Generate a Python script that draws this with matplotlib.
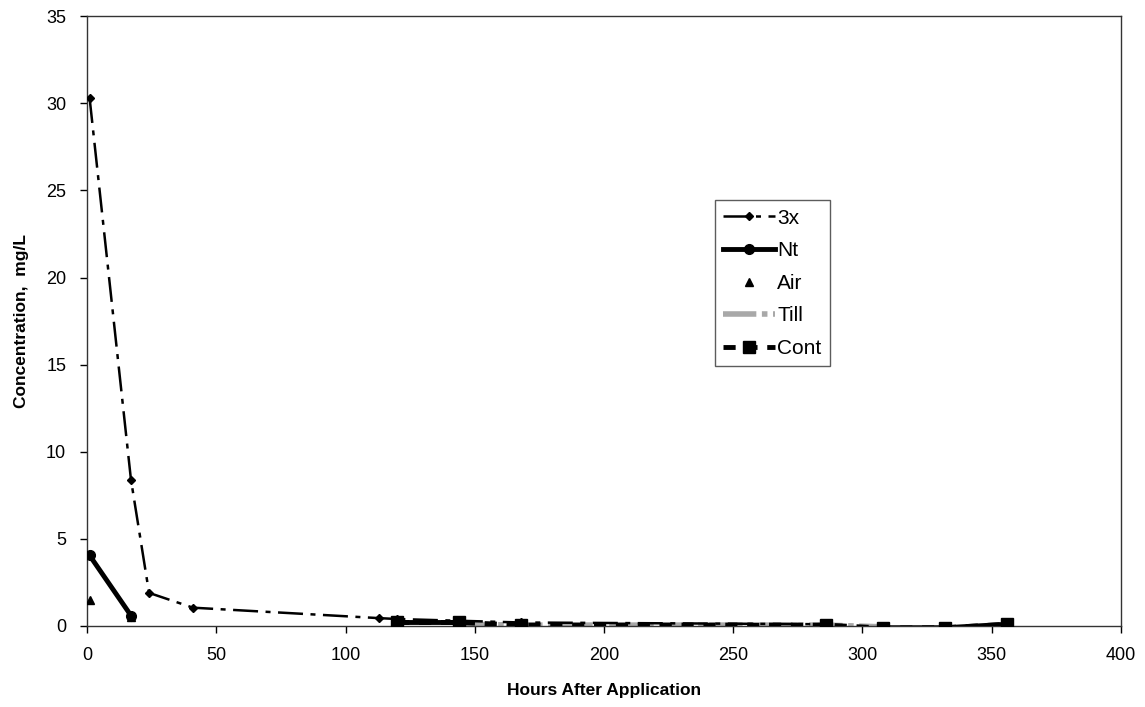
import numpy as np
import matplotlib
matplotlib.use("Agg")
import matplotlib.pyplot as plt

plt.rcParams['font.family'] = ['Liberation Sans', 'DejaVu Sans']

# Sampling times (hours after application) and measured concentrations (mg/L)
hours_3x = [1, 17, 24, 41, 113, 120, 144, 168, 286]
conc_3x = [30.3, 8.4, 1.9, 1.05, 0.45, 0.4, 0.3, 0.2, 0.1]

# NaN entries mark sampling times with no Nt measurement (breaks the line)
hours_nt = [1, 17, 24, 120, 144, 168, 286, 308, 332, 356]
conc_nt = [4.05, 0.6, np.nan, 0.2, 0.2, np.nan, np.nan, -0.1, -0.1, 0.1]

hours_air = [1, 17]
conc_air = [1.5, 0.5]

hours_till = [144, 168, 192, 216, 240, 264, 286, 308]
conc_till = [0.1, 0.05, 0.05, 0.05, 0.05, 0.05, 0.05, -0.05]

hours_cont = [120, 144, 168, 286, 308, 332, 356]
conc_cont = [0.2, 0.2, 0.05, 0.05, -0.12, -0.1, 0.1]

x_ticks = [0, 50, 100, 150, 200, 250, 300, 350, 400]
y_ticks = [0, 5, 10, 15, 20, 25, 30, 35]

fig = plt.figure(figsize=(11.45, 7.07), dpi=100)
ax = fig.add_axes([0.076, 0.1146, 0.903, 0.8625])

ax.plot(hours_till, conc_till, color='#a8a8a8', lw=4, linestyle=(0, (6, 1, 1, 1)),
        label='Till', zorder=2)
ax.plot(hours_cont, conc_cont, color='black', lw=3.5, linestyle=(0, (2.5, 2)),
        marker='s', ms=8, label='Cont', zorder=3)
ax.plot(hours_nt, conc_nt, color='black', lw=3.5, marker='o', ms=7,
        label='Nt', zorder=4)
ax.plot(hours_air, conc_air, linestyle='none', color='black', marker='^', ms=6,
        label='Air', zorder=5)
ax.plot(hours_3x, conc_3x, color='black', lw=1.8, linestyle=(0, (10, 3, 2, 3)),
        marker='D', ms=4.5, label='3x', zorder=6)

ax.set_xlim(0, 400)
ax.set_ylim(0, 35)
ax.set_xticks(x_ticks)
ax.set_yticks(y_ticks)
ax.tick_params(direction='out', length=5, width=1, labelsize=13, pad=10,
               colors='black')
for s in ax.spines.values():
    s.set_linewidth(1.0)
    s.set_color('#333333')

ax.set_xlabel('Hours After Application', fontsize=12.5, fontweight='bold', labelpad=14)
ax.set_ylabel('Concentration,  mg/L', fontsize=12.5, fontweight='bold', labelpad=12)

handles, labels = ax.get_legend_handles_labels()
order = ['3x', 'Nt', 'Air', 'Till', 'Cont']
hmap = dict(zip(labels, handles))
leg = ax.legend([hmap[k] for k in order], order, loc='upper left',
                bbox_to_anchor=(0.597, 0.715), fontsize=15, frameon=True,
                fancybox=False, edgecolor='#333333', handlelength=2.5,
                handletextpad=0.1, borderpad=0.4, labelspacing=0.65)
leg.get_frame().set_linewidth(1.0)

fig.savefig('out.png', dpi=100, facecolor='white')
